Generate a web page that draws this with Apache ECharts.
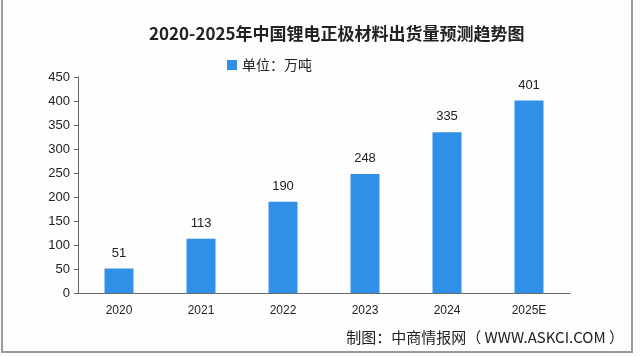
<!DOCTYPE html>
<html><head><meta charset="utf-8">
<script src="https://cdn.jsdelivr.net/npm/echarts@6/dist/echarts.min.js"></script>
<style>html,body{margin:0;padding:0;background:#fff}#c{width:640px;height:356px}</style>
</head><body><div id="c"></div>
<script>
const categories = ['2020','2021','2022','2023','2024','2025E'];
const values = [51, 113, 190, 248, 335, 401];
const seriesName = '单位：万吨';
const titleText = '2020-2025年中国锂电正极材料出货量预测趋势图';
const sourceText = '制图：中商情报网（ WWW.ASKCI.COM ）';

const chart = echarts.init(document.getElementById('c'), null, {renderer:'canvas'});
chart.setOption({
  backgroundColor: '#fdfdfd',
  animation: false,
  title: {
    text: titleText, left: 144, top: 20,
    textStyle: {fontFamily: 'Noto Sans CJK SC', fontSize: 17, fontWeight: 'bold', color: '#222'}
  },
  legend: {
    top: 53, left: 222, itemWidth: 10, itemHeight: 10, icon: 'rect', itemGap: 4,
    textStyle: {fontFamily: 'Noto Sans CJK SC', fontSize: 14, color: '#222'},
    data: [seriesName]
  },
  graphic: [
    {type:'rect', shape:{x:2, y:-2, width:630, height:354}, style:{fill:'none', stroke:'#9a9a9a', lineWidth:2}},
    {type:'text', right: 16, top: 330, style:{text: sourceText, font: '15px "Noto Sans CJK SC"', fill:'#222'}}
  ],
  grid: {left: 78, right: 70, top: 77, bottom: 63},
  xAxis: {
    type: 'category', data: categories,
    axisLine: {lineStyle: {color: '#666'}},
    axisTick: {show: false},
    axisLabel: {fontFamily: 'Liberation Sans', fontSize: 12, color: '#222', margin: 12}
  },
  yAxis: {
    type: 'value', min: 0, max: 450, interval: 50,
    axisLine: {show: true, lineStyle: {color: '#666'}},
    axisTick: {show: true, length: 4, lineStyle: {color: '#666'}},
    splitLine: {show: false},
    axisLabel: {fontFamily: 'Liberation Sans', fontSize: 13, color: '#222', margin: 8}
  },
  series: [{
    name: seriesName, type: 'bar', data: values, barWidth: 29,
    itemStyle: {color: '#3090e8'},
    label: {show: true, position: 'top', distance: 9, fontFamily: 'Liberation Sans', fontSize: 13, color: '#222'}
  }]
});
</script></body></html>
